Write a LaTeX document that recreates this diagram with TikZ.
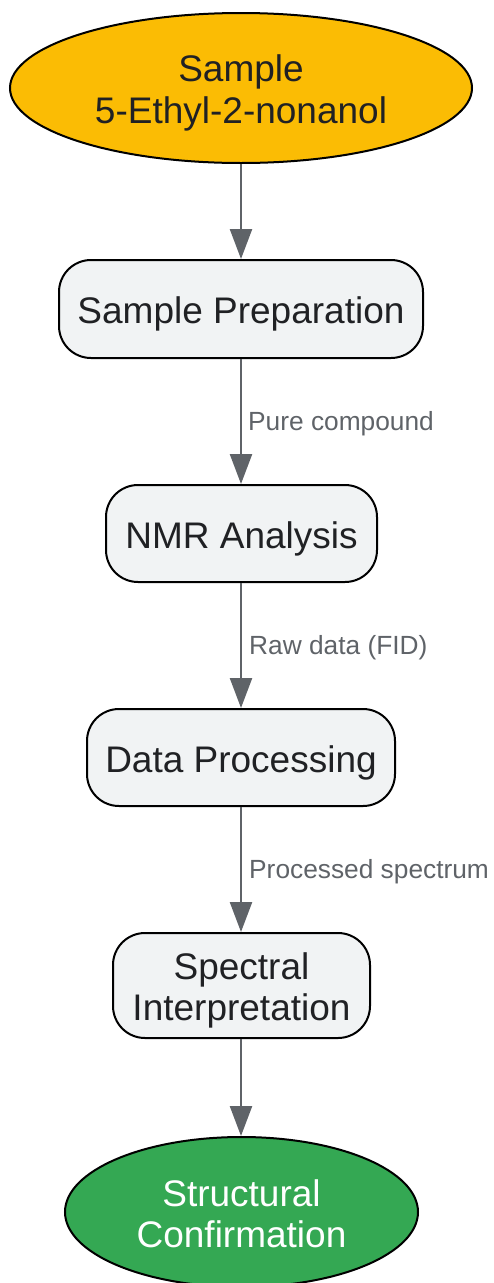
\documentclass[tikz,border=0pt]{standalone}
\usepackage{fontspec}
\setmainfont{Liberation Sans}
\usetikzlibrary{shapes.geometric,arrows.meta}
\definecolor{ybg}{HTML}{FBBC04}
\definecolor{gbg}{HTML}{34A853}
\definecolor{boxbg}{HTML}{F1F3F4}
\definecolor{txt}{HTML}{202124}
\definecolor{edgec}{HTML}{5F6368}
\newcommand{\dnline}[2][5pt]{\raisebox{-#1}[\height][\depth]{#2}}
\tikzset{
  stepbox/.style={draw=black, line width=2pt, fill=boxbg, rounded corners=32pt,
    inner sep=0pt, text=txt, align=center, font=\fontsize{37}{41.5}\selectfont},
  termnode/.style={ellipse, draw=black, line width=2pt, inner sep=0pt, align=center,
    font=\fontsize{37}{41.5}\selectfont},
  flow/.style={draw=edgec, line width=2.4pt, -{Triangle[length=30pt,width=22pt]}},
  elabel/.style={anchor=west, inner sep=0pt, text=edgec, font=\fontsize{26.3}{30}\selectfont}
}
\begin{document}
\begin{tikzpicture}[x=1pt,y=-1pt]
\useasboundingbox (0,0) rectangle (494,1283);
\node[termnode, fill=ybg, text=txt, minimum width=462pt, minimum height=150pt] (start) at (241,88) {\dnline{Sample}\\\dnline{5-Ethyl-2-nonanol}};
\node[stepbox, minimum width=364pt, minimum height=98pt] (prep) at (241,309) {\dnline{Sample Preparation}};
\node[stepbox, minimum width=271pt, minimum height=97pt] (nmr) at (241.5,533.5) {\dnline{NMR Analysis}};
\node[stepbox, minimum width=308pt, minimum height=97pt] (proc) at (241,757.5) {\dnline{Data Processing}};
\node[stepbox, minimum width=257pt, minimum height=105pt] (interp) at (241.5,985.5) {\dnline{Spectral}\\\dnline{Interpretation}};
\node[termnode, fill=gbg, text=white, minimum width=353pt, minimum height=150pt] (conf) at (241.5,1212) {\dnline[2pt]{Structural}\\\dnline[2pt]{Confirmation}};
\draw[flow] (start.south) -- (start.south |- prep.north);
\draw[flow] (prep.south) -- (prep.south |- nmr.north) node[midway, elabel, xshift=6pt, yshift=-2pt] (l1) {Pure compound};
\draw[flow] (nmr.south -| prep.south) -- (prep.south |- proc.north) node[midway, elabel, xshift=7pt, yshift=-2pt] (l2) {Raw data (FID)};
\draw[flow] (proc.south) -- (proc.south |- interp.north) node[midway, elabel, xshift=7pt, yshift=-2pt] (l3) {Processed spectrum};
\draw[flow] (interp.south -| proc.south) -- (proc.south |- conf.north);
\end{tikzpicture}
\end{document}
